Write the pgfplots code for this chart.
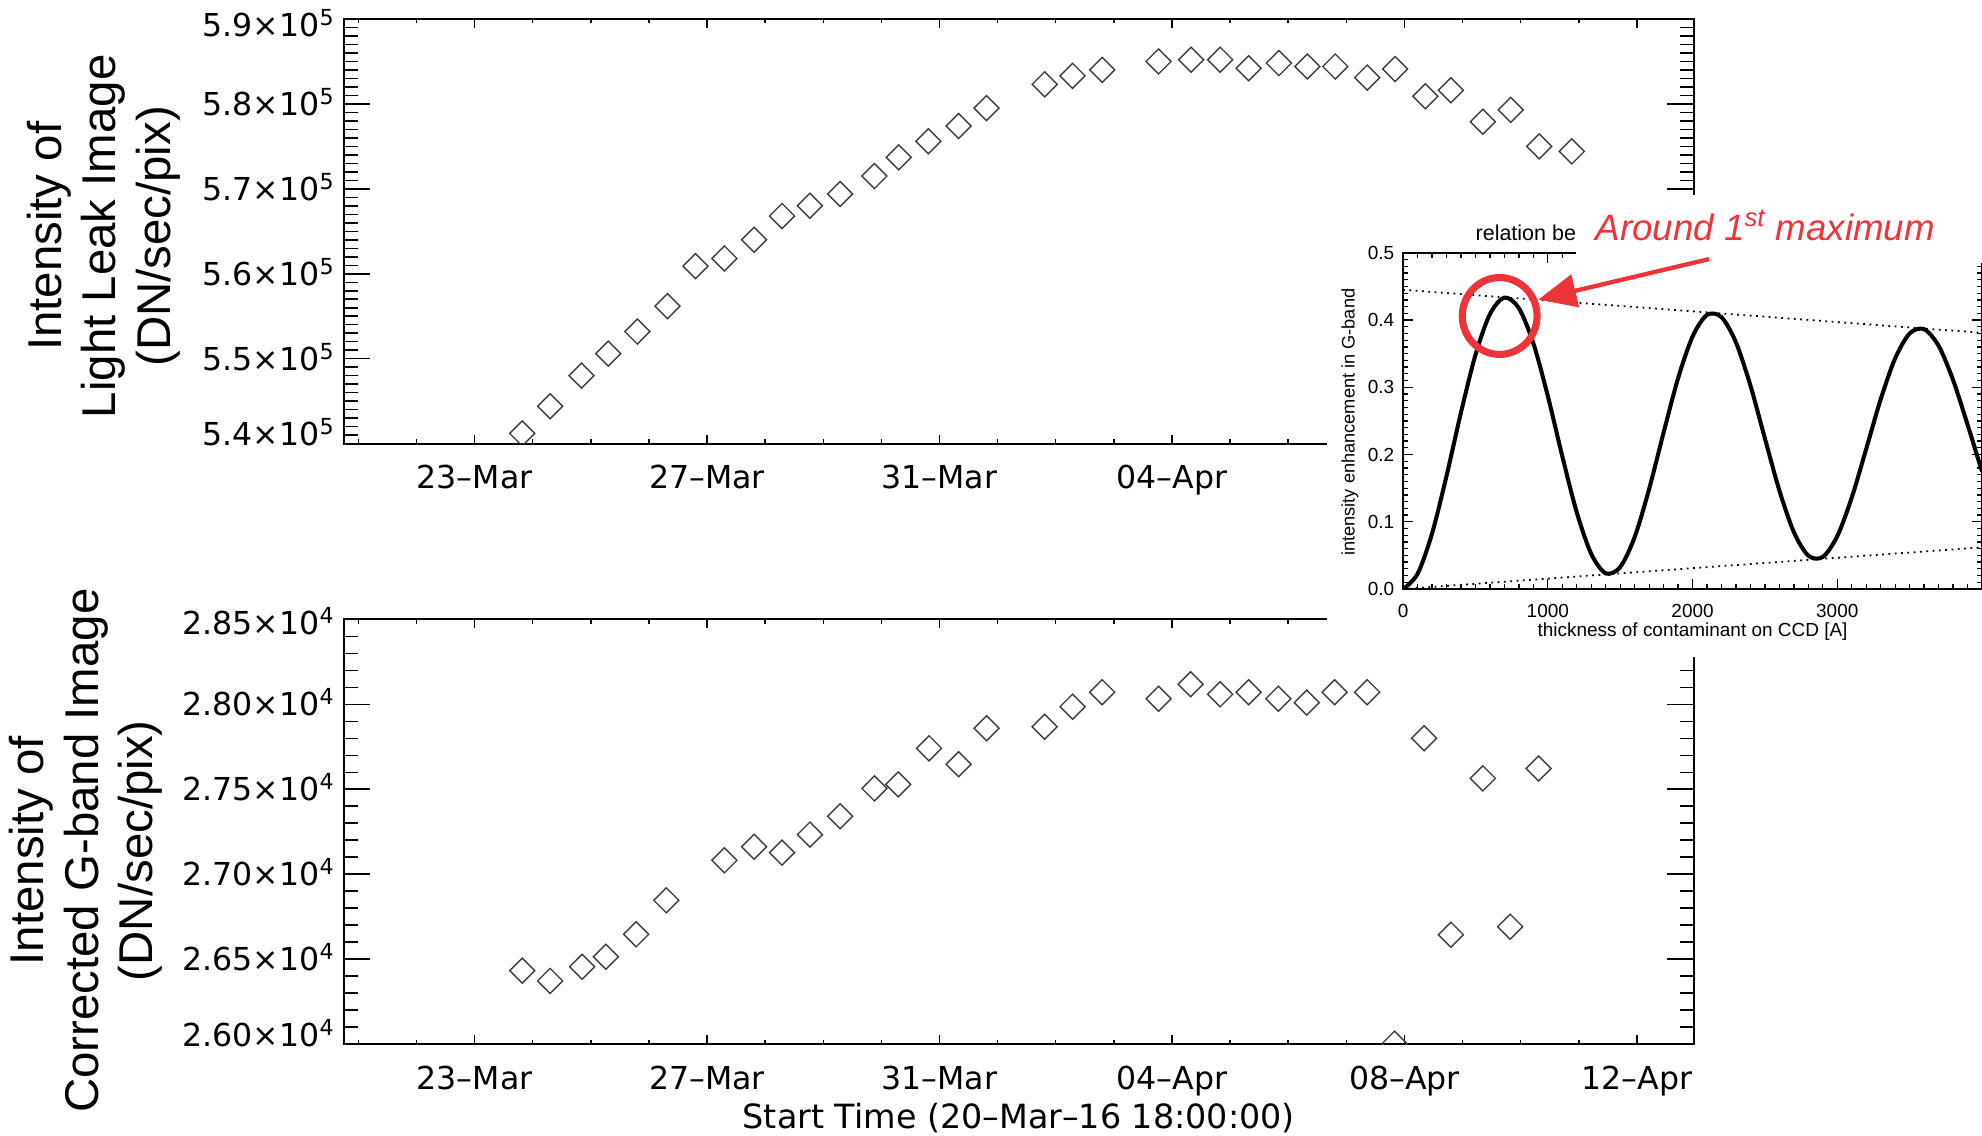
\documentclass[border=0pt]{standalone}
\usepackage{pgfplots}
\pgfplotsset{compat=1.18}
\usetikzlibrary{arrows.meta}
\usepackage{fontspec}
\setmainfont{Liberation Sans}
\newfontfamily\idl{DejaVu Sans}
\definecolor{annot}{RGB}{238,52,56}
\definecolor{mk}{RGB}{60,60,60}
\newcommand{\yl}[2]{\smash{\raisebox{#1}{#2}}}
\newcommand{\idlfont}{\idl\fontsize{12.5}{15}\selectfont}

\pgfplotsset{
  idlaxis/.style={
    scale only axis, anchor=south west,
    width=534pt, height=168pt,
    xmin=0, xmax=23.23,
    xtick={2.25,6.25,10.25,14.25,18.25,22.25},
    xticklabels={23–Mar,27–Mar,31–Mar,04–Apr,08–Apr,12–Apr},
    minor xtick={0.25,1.25,...,23.25},
    tick align=inside,
    xtick pos=both, ytick pos=both,
    xticklabel pos=lower, yticklabel pos=left,
    axis line style={line width=0.75pt},
    tick style={line width=0.6pt, black},
    xtick style={/pgfplots/major tick length=3.5pt,/pgfplots/minor tick length=1.8pt},
    ytick style={/pgfplots/major tick length=10.5pt,/pgfplots/minor tick length=5.5pt},
    tick label style={font=\idlfont},
    xticklabel style={yshift=-5pt},
    clip marker paths=true,
  },
  dmd/.style={only marks, mark=square, mark size=3.5pt,
    mark options={rotate=45, draw=mk, line width=0.55pt}},
}

\begin{document}
\begin{tikzpicture}
\useasboundingbox (0,0) rectangle (784pt,449pt);

% ---------------- top panel ----------------
\begin{axis}[idlaxis, at={(136pt,273.5pt)},
  ymin=5.4, ymax=5.9,
  ytick={5.4,5.5,5.6,5.7,5.8,5.9},
  minor y tick num=9,
  yticklabels={\yl{-0.8pt}{5.4×10\textsuperscript{5}},
               \yl{-4.6pt}{5.5×10\textsuperscript{5}},
               \yl{-4.6pt}{5.6×10\textsuperscript{5}},
               \yl{-4.6pt}{5.7×10\textsuperscript{5}},
               \yl{-4.6pt}{5.8×10\textsuperscript{5}},
               \yl{-7.0pt}{5.9×10\textsuperscript{5}}},
]
\addplot[dmd] coordinates {
(3.07,5.412) (3.55,5.444) (4.09,5.480) (4.55,5.506) (5.05,5.532) (5.57,5.562)
(6.05,5.609) (6.55,5.618) (7.06,5.640) (7.54,5.668) (8.02,5.680) (8.54,5.694)
(9.13,5.715) (9.55,5.737) (10.06,5.756) (10.58,5.774) (11.06,5.795)
(12.06,5.823) (12.54,5.833) (13.05,5.840) (14.02,5.850) (14.58,5.852)
(15.08,5.852) (15.57,5.842) (16.09,5.848) (16.58,5.844) (17.06,5.844)
(17.61,5.831) (18.09,5.841) (18.61,5.809) (19.05,5.816) (19.60,5.779)
(20.08,5.793) (20.57,5.750) (21.13,5.744)};
\end{axis}

% ---------------- bottom panel ----------------
\begin{axis}[idlaxis, at={(136pt,36pt)},
  ymin=2.60, ymax=2.85,
  ytick={2.60,2.65,2.70,2.75,2.80,2.85},
  minor y tick num=4,
  yticklabels={\yl{-0.8pt}{2.60×10\textsuperscript{4}},
               \yl{-4.6pt}{2.65×10\textsuperscript{4}},
               \yl{-4.6pt}{2.70×10\textsuperscript{4}},
               \yl{-4.6pt}{2.75×10\textsuperscript{4}},
               \yl{-4.6pt}{2.80×10\textsuperscript{4}},
               \yl{-6.0pt}{2.85×10\textsuperscript{4}}},
]
\addplot[dmd] coordinates {
(3.07,2.6432) (3.55,2.6372) (4.10,2.6455) (4.51,2.6514) (5.03,2.6646)
(5.55,2.6846) (6.55,2.7082) (7.06,2.7162) (7.54,2.7127) (8.02,2.7233)
(8.54,2.7341) (9.13,2.7505) (9.54,2.7529) (10.07,2.7741) (10.58,2.7647)
(11.06,2.7859) (12.06,2.7868) (12.54,2.7986) (13.05,2.8071) (14.02,2.8033)
(14.57,2.8118) (15.08,2.8059) (15.57,2.8071) (16.08,2.8033) (16.57,2.8010)
(17.05,2.8071) (17.61,2.8071) (18.08,2.6002) (18.59,2.7800) (19.05,2.6644)
(19.60,2.7564) (20.07,2.6691) (20.56,2.7622)};
\end{axis}

% axis titles of the main panels
\node[rotate=90, align=center, font=\fontsize{18.75}{21.5}\selectfont]
  at (41pt,355.5pt) {Intensity of\\Light Leak Image\\(DN/sec/pix)};
\node[rotate=90, align=center, font=\fontsize{18.75}{21.5}\selectfont]
  at (34pt,112.5pt) {Intensity of\\Corrected G-band Image\\(DN/sec/pix)};
\node[anchor=base, font=\idl\fontsize{13.2}{15}\selectfont] at (403pt,2.8pt) {Start Time (20–Mar–16 18:00:00)};

% ---------------- inset ----------------
\fill[white] (525pt,189pt) rectangle (790pt,372pt);
\node[anchor=west, font=\fontsize{8.5}{10}\selectfont, inner sep=0pt]
  at (583.5pt,357pt) {relation be};

\begin{axis}[at={(555pt,216pt)}, anchor=south west, scale only axis,
  width=229pt, height=133pt,
  xmin=0, xmax=4000, ymin=0, ymax=0.5,
  xtick={0,1000,2000,3000,4000}, xticklabels={0,1000,2000,3000,},
  ytick={0,0.1,0.2,0.3,0.4,0.5},
  yticklabels={0.0,0.1,0.2,0.3,0.4,0.5},
  minor x tick num=9, minor y tick num=9,
  tick align=inside, xtick pos=both, ytick pos=both,
  xticklabel pos=lower, yticklabel pos=left,
  major tick length=4pt, minor tick length=2pt,
  axis line style={line width=0.8pt},
  tick style={line width=0.5pt, black},
  tick label style={font=\fontsize{7.5}{9}\selectfont},
  xticklabel style={yshift=-2.5pt},
  scaled ticks=false,
]
\addplot[black, line width=0.7pt, dash pattern=on 0.7pt off 1.8pt] coordinates {(0,0.445) (4000,0.381)};
\addplot[black, line width=0.7pt, dash pattern=on 0.7pt off 1.8pt] coordinates {(0,0) (4000,0.062)};
\addplot[black, line width=1.6pt, smooth] coordinates {
(0,0) (100,0.0225) (200,0.0825) (300,0.1680) (400,0.2625) (500,0.3482)
(600,0.4088) (700,0.4334) (800,0.4177) (900,0.3655) (1000,0.2869)
(1100,0.1975) (1200,0.1140) (1300,0.0523) (1400,0.0234) (1500,0.0326)
(1600,0.0773) (1700,0.1487) (1800,0.2327) (1900,0.3134) (2000,0.3755)
(2100,0.4077) (2200,0.4043) (2300,0.3667) (2400,0.3024) (2500,0.2239)
(2600,0.1464) (2700,0.0846) (2800,0.0496) (2900,0.0477) (3000,0.0786)
(3100,0.1360) (3200,0.2085) (3300,0.2822) (3400,0.3431) (3500,0.3801)
(3600,0.3864) (3700,0.3617) (3800,0.3109) (3900,0.2445) (4000,0.1749)};
\end{axis}

\node[rotate=90, font=\fontsize{7.2}{9}\selectfont] at (534pt,282pt)
  {intensity enhancement in G-band};
\node[font=\fontsize{7.5}{9}\selectfont] at (669.5pt,199pt)
  {thickness of contaminant on CCD [A]};

% ---------------- annotation ----------------
\fill[white] (623.5pt,345pt) rectangle (790pt,372pt);
\node[anchor=base west, inner sep=0pt, text=annot,
  font=\fontsize{14.5}{16}\selectfont\itshape] at (631pt,354pt)
  {Around 1\textsuperscript{st} maximum};
\draw[annot, line width=2.8pt] (593.2pt,324pt) ellipse [x radius=14.8pt, y radius=15.2pt];
\draw[annot, line width=1.7pt, -{Triangle[length=15pt,width=13pt]}]
  (676pt,346.5pt) -- (608.5pt,330.5pt);
\end{tikzpicture}
\end{document}
